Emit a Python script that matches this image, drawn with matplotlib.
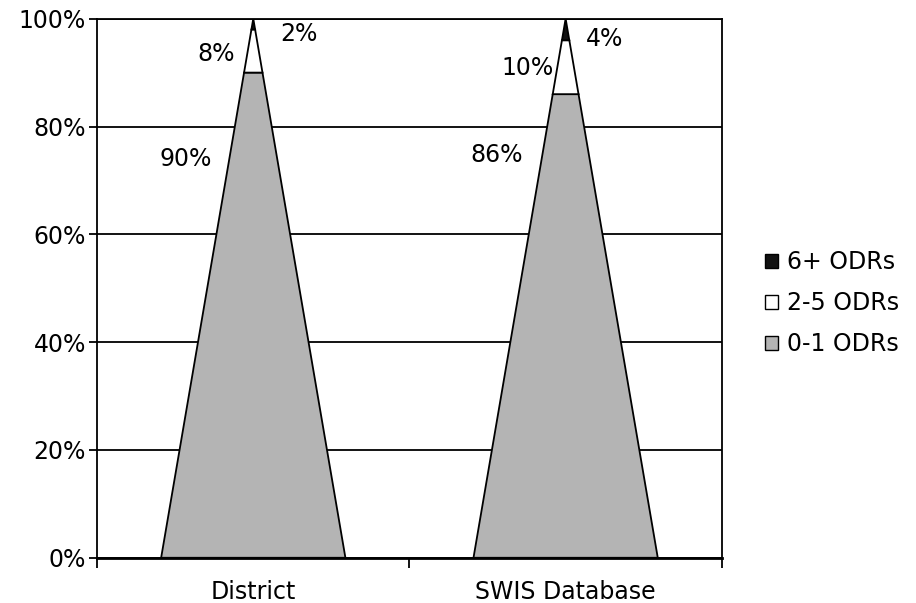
import numpy as np
import matplotlib.pyplot as plt
from matplotlib.patches import Polygon, Patch

# Data
categories = ['District', 'SWIS Database']
series_names = ['0-1 ODRs', '2-5 ODRs', '6+ ODRs']
district = [90, 8, 2]
swis = [86, 10, 4]
values = [district, swis]
colors = ['#b4b4b4', '#ffffff', '#111111']

plt.rcParams['font.family'] = 'DejaVu Sans'
fs = 17
fig = plt.figure(figsize=(9.16, 6.03), dpi=100)
ax = fig.add_axes([0.106, 0.075, 0.682, 0.894])

half_w = 0.295  # half base width in category units

for i, vals in enumerate(values):
    c = i + 0.5
    bottom = 0
    for v, col in zip(vals, colors):
        top = bottom + v
        wb = half_w * (1 - bottom / 100)
        wt = half_w * (1 - top / 100)
        poly = Polygon([(c - wb, bottom), (c + wb, bottom), (c + wt, top), (c - wt, top)],
                       closed=True, facecolor=col, edgecolor='black', linewidth=1.3, zorder=3)
        ax.add_patch(poly)
        bottom = top

# Value labels
lab_pos = {
    (0, 0): (0.284, 74.0), (0, 1): (0.38, 93.5), (0, 2): (0.645, 97.2),
    (1, 0): (1.278, 74.8), (1, 1): (1.377, 90.9), (1, 2): (1.626, 96.3),
}
for i, vals in enumerate(values):
    for j, v in enumerate(vals):
        x, y = lab_pos[(i, j)]
        ax.text(x, y, f'{v}%', ha='center', va='center', fontsize=fs, zorder=4)

ax.set_xlim(0, 2)
ax.set_ylim(0, 100)
ax.set_yticks(np.arange(0, 101, 20))
ax.set_yticklabels([f'{t}%' for t in range(0, 101, 20)], fontsize=fs)
ax.yaxis.grid(True, color='black', linewidth=1.3)
ax.set_axisbelow(True)

ax.set_xticks([0, 1, 2])
ax.set_xticklabels([])
ax.set_xticks([0.5, 1.5], minor=True)
ax.set_xticklabels(categories, minor=True, fontsize=fs)
ax.tick_params(axis='x', which='minor', length=0, pad=16)
ax.tick_params(axis='x', which='major', length=7, width=1.3, direction='out')
ax.tick_params(axis='y', length=6, width=1.3, direction='out', pad=2)

for s in ax.spines.values():
    s.set_linewidth(1.3)
ax.spines['bottom'].set_linewidth(2)

handles = [Patch(facecolor=colors[k], edgecolor='black', linewidth=1) for k in [2, 1, 0]]
labels = [series_names[k] for k in [2, 1, 0]]
fig.legend(handles, labels, loc='center left', bbox_to_anchor=(0.812, 0.497), frameon=False,
           fontsize=fs, handlelength=0.55, handleheight=0.55, handletextpad=0.4, labelspacing=0.72)

fig.savefig('out.png', dpi=100)
